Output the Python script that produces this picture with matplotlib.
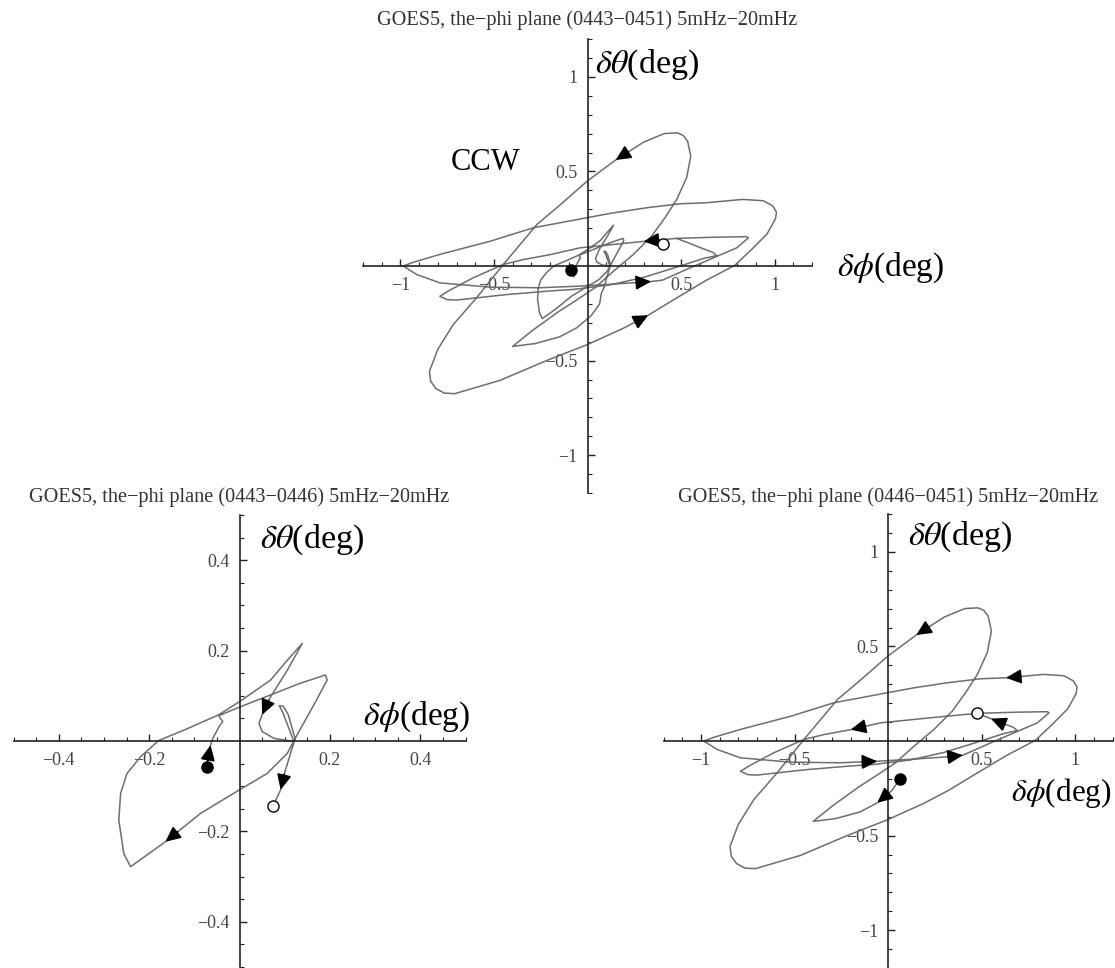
import matplotlib
matplotlib.use('Agg')
import matplotlib.pyplot as plt
import numpy as np

plt.rcParams['font.family'] = ['Liberation Serif', 'DejaVu Serif']
plt.rcParams['mathtext.fontset'] = 'stix'

# hodogram 0443-0446 (phi, theta in deg)
phi_a = [-0.072, -0.068, -0.064, -0.058, -0.053, -0.045, -0.037, -0.042, -0.046, 0.000,
         0.069, 0.135, 0.190, 0.194, 0.170, 0.145, 0.120, 0.106, 0.061, 0.000,
         -0.086, -0.164, -0.241, -0.256, -0.267, -0.263, -0.249, -0.219, -0.179, -0.116,
         -0.046, 0.000, 0.069, 0.106, 0.139, 0.106, 0.069, 0.058, 0.050, 0.043,
         0.050, 0.076, 0.106, 0.120, 0.095, 0.088, 0.097, 0.108, 0.123, 0.113,
         0.100, 0.091, 0.074]
theta_a = [-0.057, -0.030, -0.009, 0.008, 0.017, 0.032, 0.043, 0.050, 0.056, 0.075,
           0.102, 0.128, 0.146, 0.135, 0.090, 0.045, 0.000, -0.027, -0.072, -0.108,
           -0.160, -0.223, -0.278, -0.249, -0.175, -0.116, -0.072, -0.035, 0.001, 0.027,
           0.058, 0.087, 0.135, 0.179, 0.216, 0.157, 0.098, 0.076, 0.058, 0.039,
           0.021, 0.006, 0.001, 0.000, 0.065, 0.078, 0.077, 0.058, 0.005, -0.027,
           -0.070, -0.108, -0.144]
arrows_a = [2, 21, 38, 51]

# hodogram 0446-0451
phi_b = [0.065, 0.020, -0.058, -0.150, -0.280, -0.400, -0.300, -0.160, -0.040, 0.040,
         0.138, 0.245, 0.343, 0.414, 0.477, 0.530, 0.552, 0.535, 0.512, 0.480,
         0.410, 0.300, 0.150, 0.000, -0.150, -0.270, -0.450, -0.593, -0.718, -0.800,
         -0.845, -0.838, -0.810, -0.765, -0.710, -0.469, -0.219, 0.000, 0.190, 0.325,
         0.458, 0.636, 0.788, 0.880, 0.960, 1.005, 1.010, 0.990, 0.940, 0.830,
         0.630, 0.495, 0.317, 0.138, -0.004, -0.290, -0.520, -0.790, -0.930, -0.985,
         -0.913, -0.789, -0.520, -0.254, -0.058, 0.150, 0.340, 0.400, 0.548, 0.673,
         0.798, 0.860, 0.851, 0.673, 0.477, 0.300, 0.138, -0.040, -0.200, -0.343,
         -0.450, -0.610, -0.740, -0.789, -0.750, -0.700, -0.432, -0.200, -0.076, 0.120,
         0.300, 0.480, 0.620, 0.691, 0.670, 0.600, 0.550, 0.477]
theta_b = [-0.200, -0.262, -0.327, -0.375, -0.410, -0.425, -0.345, -0.245, -0.168, -0.115,
           -0.028, 0.061, 0.158, 0.255, 0.352, 0.467, 0.580, 0.660, 0.690, 0.704,
           0.700, 0.655, 0.560, 0.450, 0.320, 0.220, 0.008, -0.168, -0.310, -0.440,
           -0.557, -0.610, -0.648, -0.672, -0.675, -0.605, -0.500, -0.415, -0.330, -0.260,
           -0.180, -0.075, 0.004, 0.090, 0.170, 0.250, 0.285, 0.318, 0.345, 0.352,
           0.334, 0.329, 0.308, 0.281, 0.255, 0.202, 0.131, 0.061, 0.020, 0.000,
           -0.045, -0.089, -0.112, -0.115, -0.107, -0.095, -0.082, -0.075, -0.010, 0.043,
           0.096, 0.149, 0.155, 0.152, 0.146, 0.130, 0.114, 0.096, 0.060, 0.034,
           0.008, -0.062, -0.130, -0.160, -0.178, -0.180, -0.151, -0.132, -0.124, -0.100,
           -0.060, -0.005, 0.040, 0.055, 0.072, 0.098, 0.118, 0.146]
arrows_b = [2, 22, 50, 64, 67, 78, 96]

# full interval 0443-0451
phi_ab = phi_a + phi_b
theta_ab = theta_a + theta_b
arrows_ab = [len(phi_a) + i for i in (22, 39, 66, 75)]
start_ab = (-0.089, -0.020)
end_ab = (0.404, 0.115)

ticks_wide = [-1, -0.5, 0.5, 1]
ticks_narrow = [-0.4, -0.2, 0.2, 0.4]

title_fmt = 'GOES5, the\u2212phi plane ({}) 5mHz\u221220mHz'
theta_label = r'$\delta\theta$(deg)'
phi_label = r'$\delta\phi$(deg)'

W, H = 1115, 968
fig = plt.figure(figsize=(W / 100, H / 100), dpi=100)


def tick_text(v):
    return ('%g' % v).replace('-', '\u2212')


def setup(ax, lim, ticks, minor_step):
    ax.set_xlim(-lim, lim)
    ax.set_ylim(-lim, lim)
    ax.patch.set_alpha(0)
    for s in ('top', 'right'):
        ax.spines[s].set_visible(False)
    for s in ('left', 'bottom'):
        ax.spines[s].set_position('zero')
        ax.spines[s].set_linewidth(1.2)
        ax.spines[s].set_color('#222222')
    n = int(round(lim / minor_step))
    minor = [k * minor_step for k in range(-n, n + 1) if k != 0]
    ax.set_xticks(ticks)
    ax.set_yticks(ticks)
    ax.set_xticklabels([tick_text(t) for t in ticks])
    ax.set_yticklabels([tick_text(t) for t in ticks])
    ax.set_xticks(minor, minor=True)
    ax.set_yticks(minor, minor=True)
    ax.tick_params(which='both', direction='in', colors='#222222',
                   labelcolor='#444444', labelsize=13)
    ax.tick_params(which='major', length=5, width=1)
    ax.tick_params(which='minor', length=3, width=0.8)
    ax.tick_params(axis='x', pad=8)
    ax.tick_params(axis='y', pad=7)


def draw_orbit(ax, phi, theta, arrows, start, end, shaft):
    ax.plot(phi, theta, color='#6e6e6e', lw=1.1, zorder=2)
    for i in arrows:
        d = np.array([phi[i] - phi[i - 1], theta[i] - theta[i - 1]])
        d /= np.hypot(*d)
        tail = (phi[i] - d[0] * shaft, theta[i] - d[1] * shaft)
        ax.annotate('', xy=(phi[i], theta[i]), xytext=tail,
                    arrowprops=dict(arrowstyle='-|>,head_length=0.7,head_width=0.33',
                                    color='black', lw=1.3, mutation_scale=13,
                                    shrinkA=0, shrinkB=0), zorder=4)
    ax.plot(*start, 'o', ms=8, color='black', zorder=5)
    ax.plot(*end, 'o', ms=8, mfc='white', mec='black', mew=1.0, zorder=5)


# top panel: 0443-0451
ax1 = fig.add_axes([363 / W, 1 - 493 / H, 449 / W, 454 / H])
setup(ax1, 1.2, ticks_wide, 0.1)
draw_orbit(ax1, phi_ab, theta_ab, arrows_ab, start_ab, end_ab, 0.08)
ax1.text(0.517, 0.943, theta_label, transform=ax1.transAxes, fontsize=24.5,
         ha='left', va='center')
ax1.text(1.056, 0.496, phi_label, transform=ax1.transAxes, fontsize=24,
         ha='left', va='center')
ax1.text(0.274, 0.729, 'CCW', transform=ax1.transAxes, fontsize=22,
         ha='center', va='center')
fig.text(587.5 / W, 1 - 20 / H, title_fmt.format('0443\u22120451'),
         fontsize=14.6, ha='center', va='center', color='#333333')

# bottom left: 0443-0446
ax2 = fig.add_axes([13.5 / W, 1 / H, 452 / W, 452 / H])
setup(ax2, 0.5, ticks_narrow, 0.05)
draw_orbit(ax2, phi_a, theta_a, arrows_a,
           (phi_a[0], theta_a[0]), (phi_a[-1], theta_a[-1]), 0.035)
ax2.text(0.545, 0.945, theta_label, transform=ax2.transAxes, fontsize=24.5,
         ha='left', va='center')
ax2.text(0.774, 0.554, phi_label, transform=ax2.transAxes, fontsize=24,
         ha='left', va='center')
fig.text(239.5 / W, 1 - 497 / H, title_fmt.format('0443\u22120446'),
         fontsize=14.6, ha='center', va='center', color='#333333')

# bottom right: 0446-0451
ax3 = fig.add_axes([663.6 / W, 0, 449 / W, 454 / H])
setup(ax3, 1.2, ticks_wide, 0.1)
draw_orbit(ax3, phi_b, theta_b, arrows_b,
           (phi_b[0], theta_b[0]), (phi_b[-1], theta_b[-1]), 0.08)
ax3.text(0.545, 0.95, theta_label, transform=ax3.transAxes, fontsize=24.5,
         ha='left', va='center')
fig.text(1112 / W, 1 - 793 / H, phi_label, fontsize=22.5,
         ha='right', va='center')
fig.text(888 / W, 1 - 497 / H, title_fmt.format('0446\u22120451'),
         fontsize=14.6, ha='center', va='center', color='#333333')

fig.savefig('out.png', dpi=100)
